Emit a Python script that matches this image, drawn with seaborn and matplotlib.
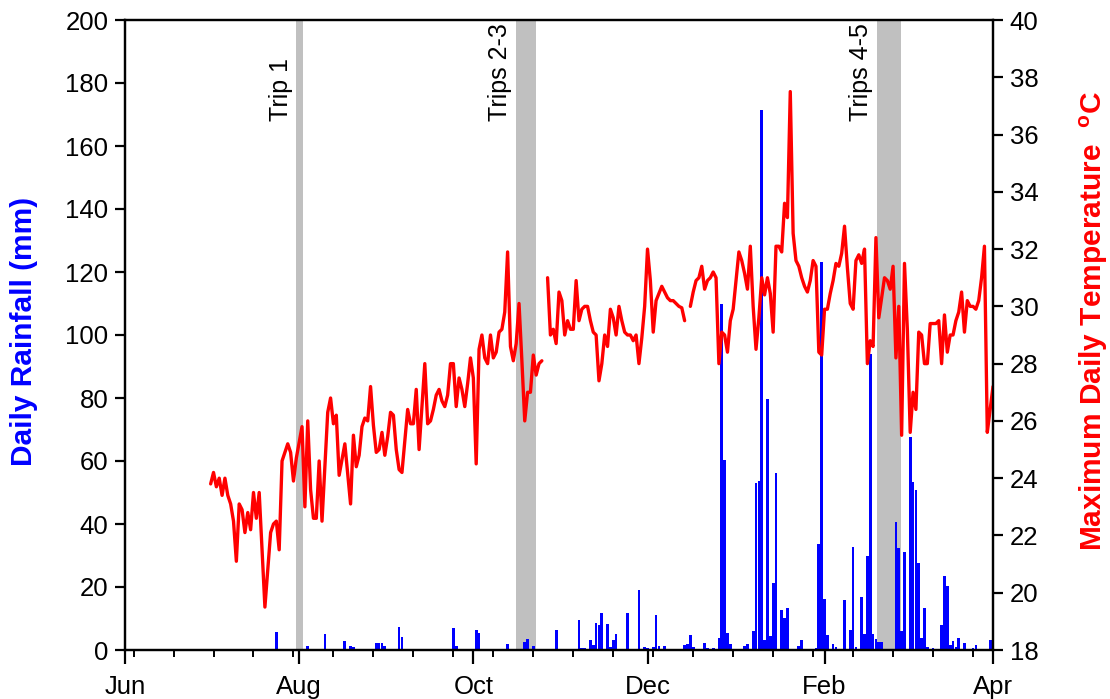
import numpy as np
import pandas as pd
import matplotlib
matplotlib.use("Agg")
import matplotlib.pyplot as plt
from matplotlib.ticker import FixedLocator
import seaborn as sns

# ---------------- data (day offset from 1 June) ----------------
month_ticks = [0, 61, 122, 183, 245, 304]
month_labels = ["Jun", "Aug", "Oct", "Dec", "Feb", "Apr"]
minor_start, minor_step = 3, 14

trip_labels = ["Trip 1", "Trips 2-3", "Trips 4-5"]
trip_start = [60.0, 136.9, 263.4]
trip_end = [62.3, 143.9, 271.7]

temp_days = [30, 31, 32, 33, 34, 35, 36, 37, 38, 39, 40, 41, 42, 43, 44, 45, 46, 47, 49, 51,
             52, 53, 54, 55, 57, 58, 59, 60, 62, 63, 64, 65, 66, 67, 68, 69, 71, 72, 73, 74,
             75, 77, 79, 80, 81, 82, 83, 84, 85, 86, 87, 88, 89, 90, 91, 92, 93, 94, 95, 96,
             97, 99, 100, 101, 102, 103, 105, 106, 107, 108, 109, 110, 111, 112, 113, 114, 115, 116, 117, 118,
             119, 120, 121, 122, 123, 124, 125, 126, 127, 128, 129, 130, 131, 132, 133, 134, 135, 136, 137, 138,
             139, 140, 141, 142, 143, 144, 145, 146, 147, 148, 149, 150, 151, 152, 153, 154, 155, 156, 157, 158,
             159, 160, 161, 162, 163, 164, 165, 166, 167, 168, 169, 170, 171, 172, 173, 174, 175, 176, 177, 178,
             179, 180, 181, 182, 183, 184, 185, 186, 187, 188, 190, 191, 192, 193, 194, 195, 196, 197, 198, 199,
             200, 201, 202, 203, 204, 205, 206, 207, 208, 209, 210, 211, 212, 213, 214, 215, 216, 217, 218, 219,
             220, 221, 222, 223, 224, 225, 226, 227, 228, 229, 230, 231, 232, 233, 234, 235, 236, 237, 238, 239,
             240, 241, 242, 243, 244, 245, 246, 247, 248, 249, 250, 251, 252, 253, 254, 255, 256, 257, 258, 259,
             260, 261, 262, 263, 264, 265, 266, 267, 268, 269, 270, 271, 272, 273, 274, 275, 276, 277, 278, 279,
             280, 281, 282, 283, 284, 285, 286, 287, 288, 289, 290, 291, 292, 293, 294, 295, 296, 297, 298, 299,
             300, 301, 302, 303, 304]
temp_vals = [23.8, 24.2, 23.7, 24.0, 23.4, 24.0, 23.4, 23.1, 22.5, 21.1, 23.1, 22.9, 22.1, 22.8, 22.2, 23.5, 22.6, 23.5, 19.5, 22.1,
             22.4, 22.5, 21.5, 24.6, 25.2, 24.9, 23.9, 24.7, 25.8, 23.0, 26.0, 23.6, 22.6, 22.6, 24.6, 22.5, 26.3, 26.8, 25.9, 26.2,
             24.1, 25.2, 23.1, 25.5, 24.4, 24.8, 25.8, 26.1, 26.0, 27.2, 25.85, 24.9, 25.0, 25.6, 24.8, 25.45, 26.3, 26.2, 25.0, 24.3,
             24.2, 26.4, 25.9, 25.9, 27.1, 25.0, 28.0, 25.9, 26.0, 26.4, 26.9, 27.1, 26.7, 26.5, 26.9, 28.0, 28.0, 26.5, 27.5, 27.1,
             26.5, 27.3, 28.2, 27.5, 24.5, 28.5, 29.0, 28.2, 28.0, 29.0, 28.2, 28.4, 29.1, 29.2, 29.8, 31.9, 28.6, 28.1, 28.7, 30.1,
             28.1, 26.0, 27.0, 27.0, 28.3, 27.6, 28.0, 28.1, np.nan, 31.0, 29.0, 29.2, 28.7, 30.5, 30.2, 29.0, 29.5, 29.2, 29.2, 30.9,
             29.5, 29.9, 30.0, 30.0, 29.5, 29.1, 29.0, 27.4, 28.0, 29.0, 28.6, 29.9, 29.6, 29.0, 30.0, 29.5, 29.1, 29.0, 29.0, 28.8,
             29.0, 28.0, 28.9, 30.0, 32.0, 30.9, 29.1, 30.2, 30.45, 30.7, 30.3, 30.2, 30.2, 30.1, 30.0, 29.95, 29.5, np.nan, 30.0, 30.5,
             30.9, 31.0, 31.4, 30.6, 30.9, 31.0, 31.2, 31.0, 28.0, 29.1, 29.0, 28.4, 29.5, 29.9, 30.9, 31.9, 31.6, 31.15, 30.6, 32.1,
             30.0, 28.5, 29.6, 31.0, 30.4, 31.0, 30.45, 29.1, 32.1, 32.1, 31.9, 33.6, 33.1, 37.5, 32.55, 31.6, 31.4, 31.0, 30.7, 30.5,
             30.9, 31.6, 31.4, 28.4, 28.3, 29.9, 29.9, 30.45, 30.9, 31.5, 31.4, 31.85, 32.8, 31.35, 30.1, 29.9, 31.6, 31.8, 31.5, 32.0,
             28.0, 28.8, 28.6, 32.4, 29.6, 30.3, 31.0, 30.9, 30.6, 31.4, 28.2, 30.0, 25.5, 31.5, 29.2, 25.6, 27.0, 26.4, 29.1, 29.0,
             28.0, 28.0, 29.4, 29.4, 29.4, 29.5, 28.0, 29.7, 28.4, 29.0, 29.0, 29.5, 29.8, 30.5, 29.1, 30.2, 30.0, 30.0, 29.9, 30.2,
             31.0, 32.1, 25.6, 26.4, 27.2]

rain_days = [53, 64, 70, 71, 76, 77, 78, 79, 80, 88, 89, 90, 91, 93, 94, 96, 97, 98, 115, 116,
             123, 124, 134, 140, 141, 143, 149, 151, 159, 160, 161, 163, 164, 165, 166, 167, 168, 169, 170, 171,
             172, 176, 180, 181, 182, 183, 185, 186, 187, 189, 196, 197, 198, 199, 203, 204, 206, 208, 209, 210,
             211, 212, 217, 218, 220, 221, 222, 223, 224, 225, 226, 227, 228, 230, 231, 232, 236, 237, 242, 243,
             244, 245, 246, 248, 249, 252, 254, 255, 256, 258, 259, 260, 261, 262, 263, 264, 265, 270, 271, 272,
             273, 274, 275, 276, 277, 278, 279, 280, 281, 283, 286, 287, 288, 289, 290, 291, 292, 294, 297, 298,
             303, 304]
rain_vals = [5.8, 1.4, 5.0, 0.4, 0.4, 2.8, 0.4, 1.2, 0.8, 2.1, 2.1, 2.1, 1.3, 0.4, 0.4, 7.3, 4.1, 0.4, 7.1, 1.3,
             6.3, 5.5, 2.0, 2.5, 3.5, 1.3, 0.4, 6.5, 9.4, 0.7, 0.7, 3.1, 1.5, 8.5, 7.8, 11.8, 0.4, 8.2, 0.8, 3.3,
             5.0, 11.6, 19.2, 0.4, 1.1, 0.7, 0.8, 11.2, 1.3, 1.3, 1.7, 1.9, 4.7, 1.0, 2.2, 0.6, 0.5, 3.8, 109.8, 60.2,
             5.5, 2.0, 1.4, 2.0, 5.9, 53.1, 53.7, 171.5, 3.2, 79.8, 4.4, 21.4, 56.1, 12.6, 10.2, 13.2, 1.4, 3.2, 0.6, 33.7,
             123.3, 16.3, 4.7, 1.8, 0.8, 15.9, 6.3, 32.8, 1.1, 16.9, 5.0, 29.9, 93.9, 5.0, 3.5, 2.4, 2.4, 40.7, 32.5, 6.1,
             31.0, 0.2, 67.7, 53.2, 50.8, 27.5, 3.9, 13.2, 1.1, 0.5, 7.9, 23.6, 20.4, 1.6, 2.9, 1.1, 3.9, 2.3, 0.5, 1.6,
             3.2, 1.1]

# ---------------- styling ----------------
sns.set_theme(style="white")
plt.rcParams["font.family"] = ["Liberation Sans", "DejaVu Sans"]
plt.rcParams.update({
    "text.color": "black", "axes.labelcolor": "black",
    "xtick.color": "black", "ytick.color": "black",
    "mathtext.fontset": "custom",
    "mathtext.rm": "Liberation Sans",
    "mathtext.bf": "Liberation Sans:bold",
})

BLUE = "#0000FF"
RED = "#FF0000"
GRAY = "#C0C0C0"
TICK_FS = 18.5
LABEL_FS = 21.5

fig = plt.figure(figsize=(11.10, 6.99), dpi=100)
ax = fig.add_axes([125 / 1110, 1 - 650 / 699, 868 / 1110, 630 / 699])
ax2 = ax.twinx()

# trip bands
for lab, s, e in zip(trip_labels, trip_start, trip_end):
    ax.axvspan(s, e, color=GRAY, lw=0, zorder=0)
    ax.text(s - 1.3, 168.0, lab, rotation=90, ha="right", va="bottom",
            fontsize=18, color="black", zorder=5)

# rainfall bars
rain_df = pd.DataFrame({"day": rain_days, "rain": rain_vals})
sns.histplot(data=rain_df, x="day", weights="rain", discrete=True, shrink=0.95,
             color=BLUE, alpha=1.0, linewidth=0, edgecolor=None, ax=ax, zorder=2)

# temperature line (NaN marks missing days -> separate segments)
temp_df = pd.DataFrame({"day": temp_days, "temp": temp_vals})
temp_df["seg"] = temp_df["temp"].isna().cumsum()
temp_df = temp_df.dropna()
sns.lineplot(data=temp_df, x="day", y="temp", units="seg", estimator=None,
             color=RED, lw=2.4, ax=ax2, legend=False)

# axes limits and ticks
ax.set_xlim(0, 304)
ax.set_ylim(0, 200)
ax2.set_ylim(18, 40)
ax.set_yticks(np.arange(0, 201, 20))
ax2.set_yticks(np.arange(18, 41, 2))
ax.set_xticks(month_ticks)
ax.set_xticklabels(month_labels)
ax.xaxis.set_minor_locator(FixedLocator(np.arange(minor_start, 304, minor_step)))

for a in (ax, ax2):
    for sp in a.spines.values():
        sp.set_color("black")
        sp.set_linewidth(1.6)
    a.grid(False)

ax.tick_params(axis="x", which="major", direction="out", length=10, width=1.6,
               labelsize=TICK_FS, pad=8, bottom=True, colors="black")
ax.tick_params(axis="x", which="minor", direction="out", length=5, width=1.4,
               bottom=True, colors="black")
ax.tick_params(axis="y", which="major", direction="out", length=7, width=1.6,
               labelsize=TICK_FS, pad=5, left=True, colors="black")
ax2.tick_params(axis="y", which="major", direction="out", length=7, width=1.6,
                labelsize=TICK_FS, pad=5, right=True, colors="black")

ax.set_xlabel("")
ax.set_ylabel("Daily Rainfall (mm)", color=BLUE, fontweight="bold", fontsize=LABEL_FS)
ax2.set_ylabel(r"Maximum Daily Temperature  $\mathbf{^{o}}$C", color=RED,
               fontweight="bold", fontsize=LABEL_FS)
ax.yaxis.set_label_coords(-0.100, 0.505)
ax2.yaxis.set_label_coords(1.098, 0.522)

fig.savefig("out.png", dpi=100)
